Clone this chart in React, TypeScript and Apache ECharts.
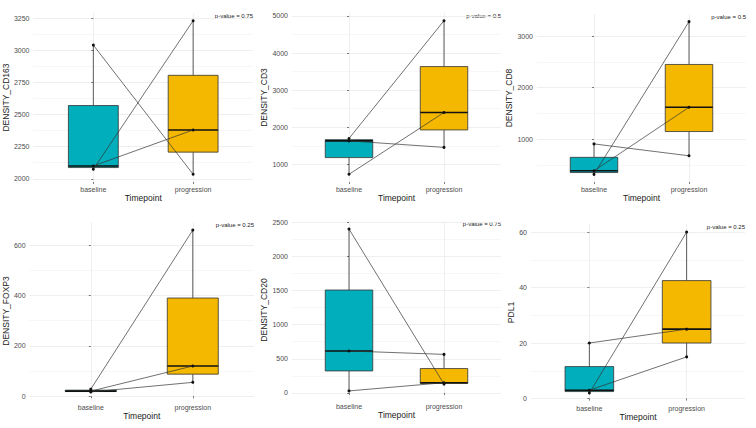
import React, { useEffect, useRef } from 'react';
import * as echarts from 'echarts';

const categories = ['baseline', 'progression'];
const yTitles = ['DENSITY_CD163', 'DENSITY_CD3', 'DENSITY_CD8', 'DENSITY_FOXP3', 'DENSITY_CD20', 'PDL1'];
const pValues = ['0.75', '0.5', '0.5', '0.25', '0.75', '0.25'];

// paired values (same index = same patient)
const cd163Baseline = [3040, 2075, 2100];
const cd163Progression = [2035, 3230, 2380];
const cd3Baseline = [1700, 735, 1635];
const cd3Progression = [4870, 2400, 1460];
const cd8Baseline = [910, 320, 390];
const cd8Progression = [680, 3280, 1620];
const foxp3Baseline = [28, 20, 17];
const foxp3Progression = [660, 120, 55];
const cd20Baseline = [2400, 615, 30];
const cd20Progression = [130, 565, 150];
const pdl1Baseline = [20, 2, 3];
const pdl1Progression = [25, 60, 15];

const cd163Ticks = [2000, 2250, 2500, 2750, 3000, 3250];
const cd163Minor = [2125, 2375, 2625, 2875, 3125];
const cd3Ticks = [1000, 2000, 3000, 4000, 5000];
const cd3Minor = [1500, 2500, 3500, 4500];
const cd8Ticks = [1000, 2000, 3000];
const cd8Minor = [500, 1500, 2500];
const foxp3Ticks = [0, 200, 400, 600];
const foxp3Minor = [100, 300, 500];
const cd20Ticks = [0, 500, 1000, 1500, 2000, 2500];
const cd20Minor = [250, 750, 1250, 1750, 2250];
const pdl1Ticks = [0, 20, 40, 60];
const pdl1Minor = [10, 30, 50];

const baselineSets = [cd163Baseline, cd3Baseline, cd8Baseline, foxp3Baseline, cd20Baseline, pdl1Baseline];
const progressionSets = [cd163Progression, cd3Progression, cd8Progression, foxp3Progression, cd20Progression, pdl1Progression];
const majorTicks = [cd163Ticks, cd3Ticks, cd8Ticks, foxp3Ticks, cd20Ticks, pdl1Ticks];
const minorTicks = [cd163Minor, cd3Minor, cd8Minor, foxp3Minor, cd20Minor, pdl1Minor];

const boxColors = ['#00AFBB', '#F5B800'];
const layouts = [
  { left: 32, top: 13, width: 221, height: 169 },
  { left: 292, top: 13, width: 209, height: 169 },
  { left: 537, top: 14, width: 209, height: 168 },
  { left: 29, top: 222, width: 225, height: 178 },
  { left: 292, top: 221, width: 209, height: 178 },
  { left: 531, top: 224, width: 214, height: 177 },
];
const nameGaps = [20, 19, 18, 18, 19, 12];
const FONT = '"Liberation Sans", Arial, sans-serif';

function quantile(sorted: number[], p: number) {
  const h = (sorted.length - 1) * p;
  const lo = Math.floor(h);
  const hi = Math.ceil(h);
  return sorted[lo] + (sorted[hi] - sorted[lo]) * (h - lo);
}
function boxStats(values: number[], x: number) {
  const s = values.slice().sort((a, b) => a - b);
  return [x, s[0], quantile(s, 0.25), quantile(s, 0.5), quantile(s, 0.75), s[s.length - 1]];
}

export default function App() {
  const ref = useRef<HTMLDivElement>(null);
  useEffect(() => {
    if (!ref.current) return;
    const chart = echarts.init(ref.current, undefined, { renderer: 'svg' });
    const grids: any[] = [];
    const xAxes: any[] = [];
    const yAxes: any[] = [];
    const series: any[] = [];
    const graphics: any[] = [];

    layouts.forEach((g, i) => {
      const b = baselineSets[i];
      const p = progressionSets[i];
      const all = b.concat(p);
      const lo = Math.min(...all);
      const hi = Math.max(...all);
      const pad = (hi - lo) * 0.05;
      const yMin = lo - pad;
      const yMax = hi + pad;
      grids.push({ left: g.left, top: g.top, width: g.width, height: g.height, containLabel: false });
      xAxes.push({
        type: 'value', gridIndex: i, min: -0.6, max: 1.6,
        axisLine: { show: false },
        axisTick: { show: true, customValues: [0, 1], length: 2, lineStyle: { color: '#444', width: 0.7 } },
        axisLabel: {
          customValues: [0, 1], formatter: (v: number) => categories[Math.round(v)] || '',
          fontSize: 7, color: '#4D4D4D', margin: 4, fontFamily: FONT,
        },
        splitLine: { show: true, lineStyle: { color: '#EBEBEB', width: 0.8 } },
        name: 'Timepoint', nameLocation: 'middle', nameGap: 10,
        nameTextStyle: { fontSize: 8.5, color: '#1a1a1a', fontWeight: 'normal', fontFamily: FONT },
      });
      yAxes.push({
        type: 'value', gridIndex: i, min: yMin, max: yMax, position: 'left',
        axisLine: { show: false },
        axisTick: { show: true, customValues: majorTicks[i], length: 2, lineStyle: { color: '#444', width: 0.7 } },
        axisLabel: {
          customValues: majorTicks[i], formatter: (v: number) => String(v),
          fontSize: 7, color: '#4D4D4D', margin: 4, fontFamily: FONT,
        },
        splitLine: { show: true, lineStyle: { color: '#EBEBEB', width: 0.8 } },
        name: yTitles[i], nameLocation: 'middle', nameRotate: 90, nameGap: nameGaps[i],
        nameTextStyle: { fontSize: 8.5, color: '#1a1a1a', fontWeight: 'normal', fontFamily: FONT },
      });
      yAxes.push({
        type: 'value', gridIndex: i, min: yMin, max: yMax, position: 'left',
        axisLine: { show: false },
        axisTick: { show: false, customValues: minorTicks[i] },
        axisLabel: { show: false, customValues: minorTicks[i] },
        splitLine: { show: true, lineStyle: { color: '#F2F2F2', width: 0.6 } },
      });
      series.push({
        type: 'custom', xAxisIndex: i, yAxisIndex: 2 * i, silent: true,
        encode: { x: 0, y: [1, 2, 3, 4, 5] },
        data: [boxStats(b, 0), boxStats(p, 1)],
        renderItem: (params: any, api: any) => {
          const x = api.value(0);
          const pHi = api.coord([x, api.value(5)]);
          const pQ3 = api.coord([x, api.value(4)]);
          const pMed = api.coord([x, api.value(3)]);
          const pQ1 = api.coord([x, api.value(2)]);
          const pLo = api.coord([x, api.value(1)]);
          const left = api.coord([x - 0.25, api.value(4)])[0];
          const right = api.coord([x + 0.25, api.value(4)])[0];
          return {
            type: 'group',
            children: [
              { type: 'line', shape: { x1: pHi[0], y1: pHi[1], x2: pQ3[0], y2: pQ3[1] }, style: { stroke: '#333', lineWidth: 0.8 } },
              { type: 'line', shape: { x1: pQ1[0], y1: pQ1[1], x2: pLo[0], y2: pLo[1] }, style: { stroke: '#333', lineWidth: 0.8 } },
              { type: 'rect', shape: { x: left, y: pQ3[1], width: right - left, height: pQ1[1] - pQ3[1] }, style: { fill: boxColors[params.dataIndex], stroke: '#333', lineWidth: 0.8 } },
              { type: 'line', shape: { x1: left, y1: pMed[1], x2: right, y2: pMed[1] }, style: { stroke: '#111', lineWidth: 1.6 } },
            ],
          };
        },
      });
      b.forEach((bv, j) => {
        series.push({
          type: 'line', xAxisIndex: i, yAxisIndex: 2 * i, silent: true,
          data: [[0, bv], [1, p[j]]],
          symbol: 'circle', symbolSize: 3, showSymbol: true,
          lineStyle: { color: '#333', width: 0.7 },
          itemStyle: { color: '#111' },
        });
      });
      graphics.push({
        type: 'text', x: g.left + g.width, y: g.top + 3,
        style: { text: 'p-value = ' + pValues[i], align: 'right', verticalAlign: 'middle', fontSize: 6, fill: '#222', fontFamily: FONT },
      });
    });

    chart.setOption({
      animation: false,
      backgroundColor: '#fff',
      grid: grids, xAxis: xAxes, yAxis: yAxes, series, graphic: graphics,
    });
    return () => chart.dispose();
  }, []);
  return <div ref={ref} style={{ position: 'fixed', left: 0, top: 0, width: 756, height: 428 }} />;
}
